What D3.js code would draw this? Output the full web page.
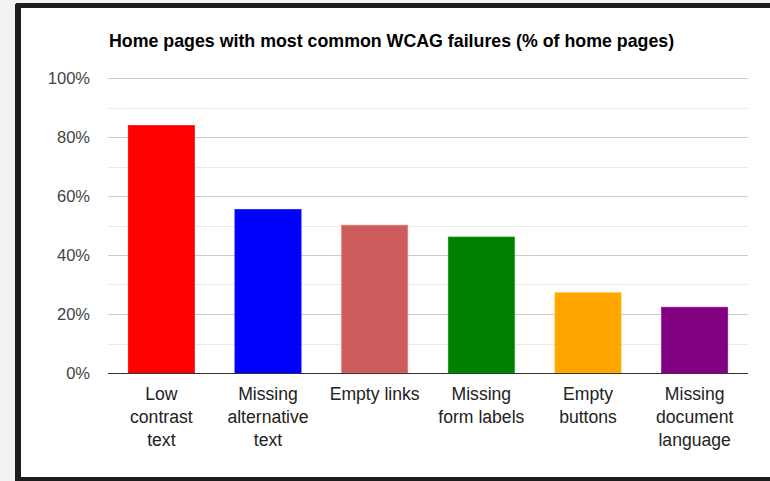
<!DOCTYPE html>
<html>
<head>
<meta charset="utf-8">
<style>
  body { margin: 0; background: #f2f2f2; width: 770px; height: 481px; overflow: hidden; }
  .frame {
    position: absolute; left: 15px; top: 3px; width: 800px; height: 478px;
    box-sizing: border-box; background: #fff;
    border-left: 6px solid #1c1c1c; border-top: 5px solid #1c1c1c; border-bottom: 4px solid #1c1c1c;
    border-top-left-radius: 3px;
  }
  svg { position: absolute; left: 0; top: 0; }
  text { font-family: "Liberation Sans", Arial, sans-serif; }
</style>
</head>
<body>
<div class="frame"></div>
<script src="https://d3js.org/d3.v7.min.js"></script>
<script>
// data (WebAIM-style failure rates)
var categories = ["Low contrast text", "Missing alternative text", "Empty links",
                  "Missing form labels", "Empty buttons", "Missing document language"];
var labelLines = [["Low", "contrast", "text"], ["Missing", "alternative", "text"], ["Empty links"],
                  ["Missing", "form labels"], ["Empty", "buttons"], ["Missing", "document", "language"]];
var values = [83.9, 55.4, 50.1, 46.1, 27.2, 22.3];
var colors = ["#ff0000", "#0000ff", "#cd5c5c", "#008000", "#ffa500", "#800080"];
var yTicks = [0, 20, 40, 60, 80, 100];
var yMinor = [10, 30, 50, 70, 90];

var W = 770, H = 481;
var plotL = 108, plotR = 748, plotT = 78, plotB = 373;

var svg = d3.select("body").append("svg").attr("width", W).attr("height", H);

var x = d3.scaleBand().domain(categories).range([plotL, plotR]).paddingInner(0.38).paddingOuter(0.19);
var y = d3.scaleLinear().domain([0, 100]).range([plotB, plotT]);

// title
svg.append("text")
  .attr("x", plotL + 1).attr("y", 47)
  .style("font-size", "17.8px").style("font-weight", "bold").attr("fill", "#000")
  .text("Home pages with most common WCAG failures (% of home pages)");

// gridlines
svg.append("g").selectAll("line").data(yMinor).enter().append("line")
  .attr("x1", plotL).attr("x2", plotR)
  .attr("y1", function (d) { return Math.round(y(d)) + 0.5; })
  .attr("y2", function (d) { return Math.round(y(d)) + 0.5; })
  .attr("stroke", "#ebebeb");

svg.append("g").selectAll("line").data(yTicks.slice(1)).enter().append("line")
  .attr("x1", plotL).attr("x2", plotR)
  .attr("y1", function (d) { return Math.round(y(d)) + 0.5; })
  .attr("y2", function (d) { return Math.round(y(d)) + 0.5; })
  .attr("stroke", "#cccccc");

// y labels
svg.append("g").selectAll("text").data(yTicks).enter().append("text")
  .attr("x", 90).attr("y", function (d) { return y(d) + 6; })
  .attr("text-anchor", "end")
  .style("font-size", "16.5px").attr("fill", "#444")
  .text(function (d) { return d + "%"; });

// bars
svg.append("g").selectAll("rect").data(values).enter().append("rect")
  .attr("x", function (d, i) { return x(categories[i]); })
  .attr("width", x.bandwidth())
  .attr("y", function (d) { return y(d); })
  .attr("height", function (d) { return y(0) - y(d); })
  .attr("fill", function (d, i) { return colors[i]; })
  .attr("stroke", function (d, i) { return d3.color(colors[i]).brighter(0.6); })
  .attr("stroke-width", 0.7);

// baseline
svg.append("line")
  .attr("x1", plotL).attr("x2", plotR)
  .attr("y1", plotB + 0.5).attr("y2", plotB + 0.5)
  .attr("stroke", "#333").attr("stroke-width", 1.2);

// x labels
var xl = svg.append("g").selectAll("text").data(categories).enter().append("text")
  .attr("text-anchor", "middle")
  .style("font-size", "17.6px").attr("fill", "#222")
  .attr("transform", function (d) { return "translate(" + (x(d) + x.bandwidth() / 2) + ",0)"; });

xl.selectAll("tspan").data(function (d, i) { return labelLines[i]; }).enter().append("tspan")
  .attr("x", 0)
  .attr("y", function (d, j) { return 400 + j * 23; })
  .text(function (d) { return d; });
</script>
</body>
</html>
